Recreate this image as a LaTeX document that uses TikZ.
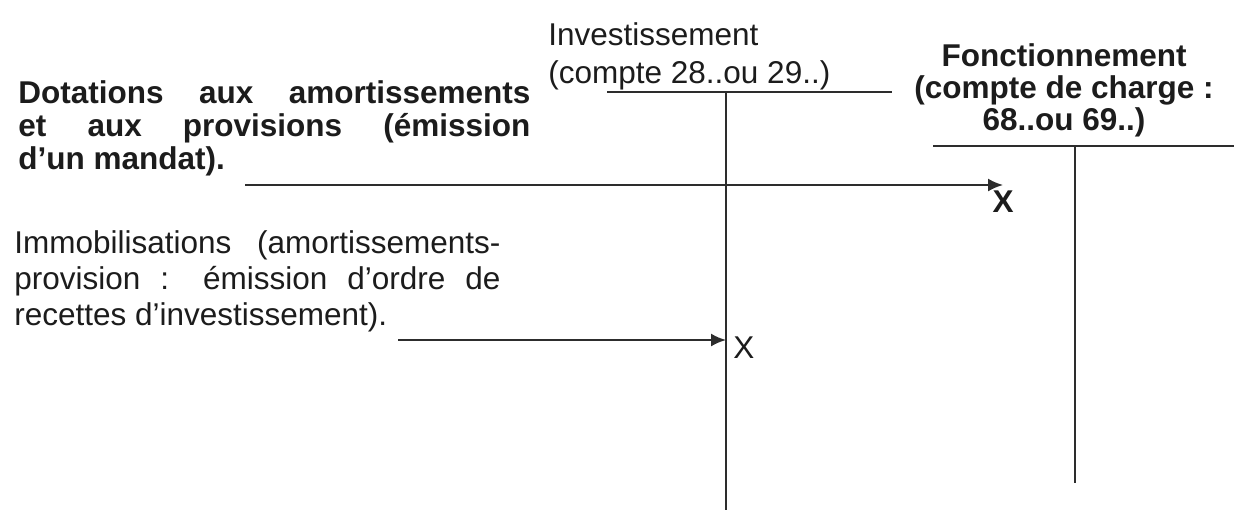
\documentclass[tikz,border=0pt]{standalone}
\usepackage{fontspec}
\setmainfont{Liberation Sans}
\usepackage{tikz}
\usetikzlibrary{arrows.meta, positioning}
\definecolor{myink}{RGB}{28,28,28}
\definecolor{myline}{RGB}{45,45,45}
\tikzset{
  boldpara/.style={anchor=base west, inner sep=0pt, align=justify, text=myink,
    font=\fontsize{15.75}{16.5}\selectfont\bfseries},
  plainpara/.style={anchor=base west, inner sep=0pt, align=justify, text=myink,
    font=\fontsize{15.75}{18}\selectfont},
  ruleline/.style={line width=0.8pt, color=myline},
  arrow/.style={-{Latex[length=7.5pt,width=6.5pt]}, line width=1pt, color=myline}
}
\begin{document}
\begin{tikzpicture}[x=0.5pt, y=-0.5pt,
  header/.style={anchor=base west, inner sep=0pt, align=left, text=myink, font=\fontsize{15.75}{19}\selectfont},
  boldheader/.style={anchor=base, inner sep=0pt, align=center, text=myink, font=\fontsize{15.75}{16}\selectfont\bfseries},
  crossmark/.style={inner sep=0pt, text=myink, font=\fontsize{15.75}{18}\selectfont},
  boldcross/.style={inner sep=0pt, text=myink, font=\fontsize{15.75}{18}\selectfont\bfseries}
]
\useasboundingbox (0,0) rectangle (1234,510);
\fill[white] (0,0) rectangle (1234,510);

\node[boldpara, text width=256pt] (dotations) at (18,103)
  {Dotations aux amortissements\linebreak et aux provisions (émission\linebreak d’un mandat).};
\node[plainpara, text width=243pt] (immobilisations) at (14,253)
  {Immobilisations (amortissements-\linebreak provision~: émission d’ordre de\linebreak recettes d’investissement).};
\node[header] (investissement) at (548,83) {Investissement\\(compte 28..ou 29..)};
\node[boldheader] (fonctionnement) at (1064,130) {Fonctionnement\\(compte de charge :\\68..ou 69..)};

\coordinate (invleft) at (607,92);
\coordinate (invright) at (892,92);
\coordinate (invbottom) at (726,510);
\coordinate (fctleft) at (933,146);
\coordinate (fctright) at (1234,146);
\coordinate (fctbottom) at (1075,483);

\draw[ruleline] (invleft) -- (invright);
\draw[ruleline] (invbottom |- invleft) -- (invbottom);
\draw[ruleline] (fctleft) -- (fctright);
\draw[ruleline] (fctbottom |- fctleft) -- (fctbottom);

\coordinate (dotstart) at (245,185);
\node[boldcross, anchor=north] (xfct) at (1003,190) {X};
\draw[arrow] (dotstart) -- (dotstart -| xfct.north);

\coordinate (immostart) at (398,340);
\node[crossmark, anchor=west] (xinv) at (733,348) {X};
\draw[arrow] (immostart) -- (immostart -| invbottom);
\end{tikzpicture}
\end{document}
